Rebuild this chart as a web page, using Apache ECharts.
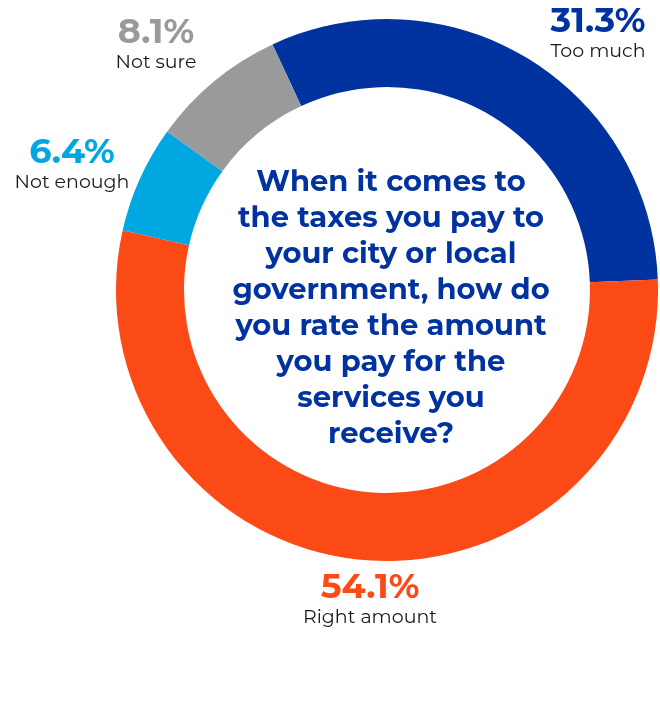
<!DOCTYPE html>
<html>
<head>
<meta charset="utf-8">
<script src="https://cdn.jsdelivr.net/npm/echarts@6/dist/echarts.min.js"></script>
<style>
  html, body { margin: 0; padding: 0; background: #ffffff; }
  #chart { width: 660px; height: 713px; }
</style>
</head>
<body>
<div id="chart"></div>
<script>
// Survey answers, clockwise from the upper left
const categories = ['Too much', 'Right amount', 'Not enough', 'Not sure'];
const shares = [31.3, 54.1, 6.4, 8.1];
const sliceColors = ['#0033a0', '#fc4a17', '#00a7e1', '#999a9c'];
const question = [
  'When it comes to',
  'the taxes you pay to',
  'your city or local',
  'government, how do',
  'you rate the amount',
  'you pay for the',
  'services you',
  'receive?'
];

// Where each label block sits (centre x, top y)
const labelAnchors = [
  [598, 3],
  [370, 569],
  [72, 134],
  [156, 14]
];

const FONT = '"Montserrat", "Noto Sans", "Open Sans", sans-serif';

const chart = echarts.init(document.getElementById('chart'), null, { renderer: 'canvas' });

chart.setOption({
  backgroundColor: '#ffffff',
  animation: false,
  title: {
    text: question.join('\n'),
    left: 386,
    top: 159,
    textAlign: 'center',
    textStyle: {
      fontFamily: FONT,
      fontWeight: 'bold',
      fontSize: 29,
      lineHeight: 36,
      color: '#0033a0'
    }
  },
  series: [{
    type: 'pie',
    center: [387, 290],
    radius: [203, 271],
    startAngle: 115,
    clockwise: true,
    silent: true,
    labelLine: { show: false },
    data: categories.map((name, i) => ({
      name,
      value: shares[i],
      itemStyle: { color: sliceColors[i] },
      label: {
        rich: {
          v: {
            fontFamily: FONT,
            fontWeight: 'bold',
            fontSize: 35,
            lineHeight: 37,
            color: sliceColors[i],
            align: 'center'
          },
          n: {
            fontFamily: FONT,
            fontSize: 19,
            lineHeight: 22,
            color: '#1a1a1a',
            align: 'center'
          }
        }
      }
    })),
    label: {
      show: true,
      position: 'outside',
      overflow: 'none',
      width: 200,
      formatter: p => '{v|' + p.value.toFixed(1) + '%}\n{n|' + p.name + '}'
    },
    labelLayout: params => {
      const a = labelAnchors[params.dataIndex];
      return { x: a[0], y: a[1], align: 'center', verticalAlign: 'top', moveOverlap: false };
    }
  }]
});
</script>
</body>
</html>
